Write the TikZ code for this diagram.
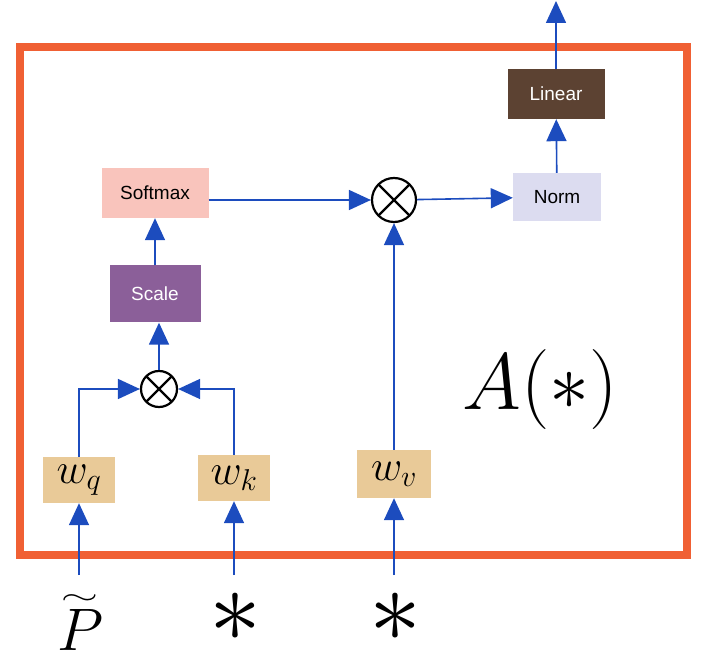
\RequirePackage{fix-cm}
\documentclass[tikz,border=0pt]{standalone}
\usepackage{amsmath}
\usepackage{fontspec}
\setsansfont{Liberation Sans}
\usepackage{color}
\usepackage{tikz}
\usetikzlibrary{shapes.geometric, arrows.meta}
\definecolor{arrowblue}{RGB}{28,76,190}
\definecolor{frameorange}{RGB}{240,96,52}
\definecolor{softpink}{RGB}{249,196,188}
\definecolor{scalepurple}{RGB}{139,95,153}
\definecolor{normgrey}{RGB}{220,220,240}
\definecolor{linearbrown}{RGB}{92,66,50}
\definecolor{wtan}{RGB}{233,202,152}
\tikzstyle{wbox} = [rectangle, minimum width=72pt, minimum height=46pt, inner sep=0pt, text centered, fill=wtan, font=\fontsize{43}{45}\selectfont]
\tikzstyle{opbox} = [rectangle, minimum width=100pt, minimum height=50pt, inner sep=0pt, text centered, font=\sffamily\fontsize{19}{21}\selectfont]
\tikzstyle{otimes} = [circle, draw=black, line width=2.2pt, inner sep=0pt, path picture={\draw[line width=2.2pt] (path picture bounding box.north west) -- (path picture bounding box.south east) (path picture bounding box.north east) -- (path picture bounding box.south west);}]
\tikzstyle{arrow} = [arrowblue, line width=1.6pt, -{Triangle[length=22pt,width=20pt]}]
\tikzstyle{frame} = [frameorange, line width=8pt]

\begin{document}
\begin{tikzpicture}[x=1pt, y=1pt]
\useasboundingbox (0,0) rectangle (708,664);
\draw [frame] (20,109) rectangle (687,617);
% inputs
\node (wq) [wbox] at (79,184) {$w_q$};
\node (wk) [wbox, node distance=155pt, right of=wq, yshift=2pt] {$w_k$};
\node (wv) [wbox, minimum width=74pt, minimum height=48pt, node distance=160pt, right of=wk, yshift=4pt] {$w_v$};
\node (lp) [anchor=base] at (81,14) {\fontsize{60}{62}\selectfont$\overset{\scalebox{0.8}[0.45]{$\sim$}}{P}$};
\node (lk) at (235,47) {\fontsize{104}{106}\selectfont$\ast$};
\node (lv) at (395,47) {\fontsize{104}{106}\selectfont$\ast$};
\coordinate (inq) at (79,89);
\coordinate (ink) at (234,89);
\coordinate (inv) at (394,89);
% attention
\node (mulqk) [otimes, minimum size=36pt] at (159,275) {};
\node (scale) [opbox, minimum width=91pt, minimum height=57pt, fill=scalepurple, text=white, node distance=95pt, above of=mulqk, xshift=-4pt] {Scale};
\node (softmax) [opbox, minimum width=107pt, fill=softpink, node distance=101pt, above of=scale] {Softmax};
\node (mulv) [otimes, minimum size=44pt, node distance=274pt, above of=wv] {};
\node (norm) [opbox, minimum width=88pt, minimum height=48pt, fill=normgrey, node distance=163pt, right of=mulv, yshift=3pt] {Norm};
\node (linear) [opbox, minimum width=97pt, fill=linearbrown, text=white, node distance=103pt, above of=norm, xshift=-1pt] {Linear};
\coordinate (out) at (556,663);
\node (title) at (540,274) {\fontsize{80}{84}\selectfont$A(\ast)$};
\draw [arrow] (inq) -- (wq);
\draw [arrow] (ink) -- (wk);
\draw [arrow] (inv) -- (wv);
\draw [arrow] (wq) |- (mulqk);
\draw [arrow] (wk) |- (mulqk);
\draw [arrow] (mulqk) -- (mulqk |- scale.south);
\draw [arrow] (scale) -- (softmax);
\draw [arrow] (softmax.east |- mulv) -- (mulv);
\draw [arrow] (wv) -- (mulv);
\draw [arrow] (mulv) -- (norm);
\draw [arrow] (norm) -- (linear);
\draw [arrow] (linear) -- (out);
\end{tikzpicture}
\end{document}
